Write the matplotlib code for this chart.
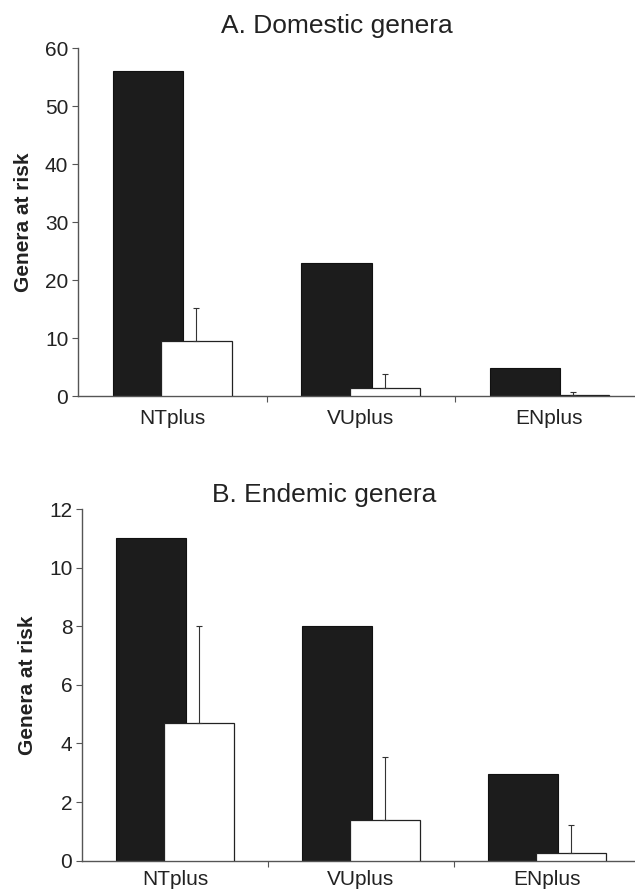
import matplotlib
matplotlib.use('Agg')

import numpy as np
import matplotlib.pyplot as plt

plt.rcParams['font.family'] = ['Liberation Sans', 'DejaVu Sans']

##########
categories = ['NTplus', 'VUplus', 'ENplus']

# A. Domestic genera
dom_black = [56.0, 22.9, 4.8]
dom_white = [9.5, 1.4, 0.1]
dom_err = [5.7, 2.4, 0.6]

# B. Endemic genera
end_black = [11.0, 8.0, 2.95]
end_white = [4.7, 1.4, 0.25]
end_err = [3.3, 2.15, 0.97]

##########
W = 0.375
OFF = 0.128
TXT = '#222222'
AXC = '#555555'

fig = plt.figure(figsize=(6.35, 8.94), dpi=100)
ax1 = fig.add_axes([78/635, 1-396/894, 565.5/635, 348/894])
ax2 = fig.add_axes([82/635, 1-860.7/894, 558/635, 351.7/894])


def panel(ax, black, white, err, ymax, yticks, xpad):
    x = np.arange(len(categories))
    ax.bar(x - OFF, black, width=W, color='#1c1c1c', edgecolor='#111111', linewidth=0.8, zorder=2)
    ax.bar(x + OFF, white, width=W, color='white', edgecolor='#222222', linewidth=0.9, zorder=3)
    ax.errorbar(x + OFF, white, yerr=[np.zeros(len(err)), err], fmt='none',
                ecolor='#333333', elinewidth=0.8, capsize=2.5, capthick=0.8, zorder=4)
    ax.set_xlim(-0.5, 2.5)
    ax.set_ylim(0, ymax)
    ax.set_yticks(yticks)
    ax.set_xticks([0.5, 1.5, 2.5])
    ax.set_xticklabels([])
    ax.set_xticks(x, minor=True)
    ax.set_xticklabels(categories, minor=True)
    ax.tick_params(axis='x', which='minor', length=0, pad=xpad, labelsize=15, labelcolor=TXT)
    ax.tick_params(axis='x', which='major', length=4, direction='out', color=AXC)
    ax.tick_params(axis='y', length=4, direction='out', color=AXC, pad=3, labelsize=15, labelcolor=TXT)
    for s in ['top', 'right']:
        ax.spines[s].set_visible(False)
    for s in ['left', 'bottom']:
        ax.spines[s].set_color(AXC)
        ax.spines[s].set_linewidth(1.0)
    ax.set_ylabel('Genera at risk', fontsize=15, fontweight='bold', color=TXT)


panel(ax1, dom_black, dom_white, dom_err, 60, range(0, 61, 10), 9)
panel(ax2, end_black, end_white, end_err, 12, range(0, 13, 2), 7)
ax1.yaxis.set_label_coords(-45/565.5, 0.5)
ax2.yaxis.set_label_coords(-45/558, 0.5)

fig.text(336.5/635, 1-33/894, 'A. Domestic genera', fontsize=19, color=TXT, ha='center', va='baseline')
fig.text(324/635, 1-502/894, 'B. Endemic genera', fontsize=19, color=TXT, ha='center', va='baseline')

fig.savefig('out.png', dpi=100)
